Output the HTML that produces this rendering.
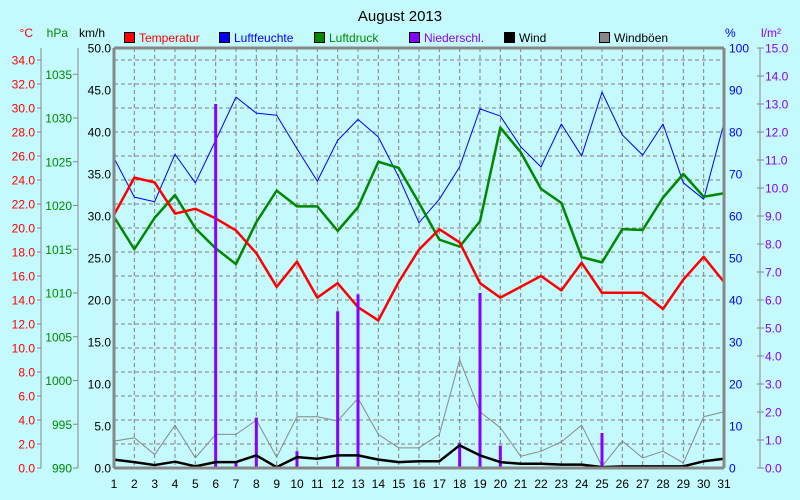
<!DOCTYPE html>
<html><head><meta charset="utf-8"><style>
body{margin:0;background:#c4fafd;}
svg{display:block;font-family:"Liberation Sans",sans-serif;}
</style></head><body>
<svg id="c" width="800" height="500"></svg>
<script>
const days=[1,2,3,4,5,6,7,8,9,10,11,12,13,14,15,16,17,18,19,20,21,22,23,24,25,26,27,28,29,30,31];
const temp=[21.1,24.2,23.8,21.2,21.6,20.8,19.8,17.9,15.1,17.2,14.2,15.4,13.4,12.3,15.5,18.2,19.9,18.8,15.4,14.2,15.1,16.0,14.8,17.1,14.6,14.6,14.6,13.25,15.7,17.6,15.5];
const hum=[73.8,64.5,63.4,74.7,67.9,78,88.3,84.5,84,76,68.3,78,83,78.8,69.3,58.4,64,71.7,85.5,83.8,76.5,71.7,81.9,74.3,89.5,79.3,74.5,81.9,67.9,64,82.1];
const press=[1018.7,1015.0,1018.6,1021.2,1017.4,1015.1,1013.3,1018.1,1021.7,1019.9,1019.9,1017.1,1019.8,1025.0,1024.3,1020.3,1016.1,1015.3,1018.2,1028.9,1026.1,1021.9,1020.3,1014.1,1013.5,1017.3,1017.2,1020.9,1023.6,1021.0,1021.4];
const wind=[1.0,0.7,0.35,0.75,0.2,0.7,0.7,1.5,0.1,1.3,1.1,1.5,1.5,1.0,0.7,0.8,0.8,2.7,1.5,0.7,0.5,0.5,0.4,0.4,0.1,0.2,0.2,0.2,0.2,0.8,1.1];
const gust=[3.2,3.6,1.6,5.1,1.2,4.0,4.0,5.7,1.3,6.1,6.1,5.6,8.3,4.0,2.4,2.4,4.0,12.9,6.7,4.8,1.4,2.0,3.1,5.1,0.2,3.2,1.2,2.0,0.6,6.1,6.7];
const rain=[0,0,0,0,0,13.0,0.2,1.8,0,0.6,0,5.6,6.2,0,0,0,0,0.9,6.25,0.8,0,0,0,0,1.25,0,0,0,0,0,2.0];
const tempTicks=[0,2,4,6,8,10,12,14,16,18,20,22,24,26,28,30,32,34];
const pressTicks=[990,995,1000,1005,1010,1015,1020,1025,1030,1035];
const kmhTicks=[0,5,10,15,20,25,30,35,40,45,50];
const humTicks=[0,10,20,30,40,50,60,70,80,90,100];
const rainTicks=[0,1,2,3,4,5,6,7,8,9,10,11,12,13,14,15];

const L=114,R=724,T=48,B=468;
const x=d=>L+(d-1)*(R-L)/30;
const yT=v=>B-v*(B-T)/35;
const yP=v=>B-(v-990)*(B-T)/48;
const yK=v=>B-v*(B-T)/50;
const yH=v=>B-v*(B-T)/100;
const yR=v=>B-v*(B-T)/15;
const svg=document.getElementById('c');
const NS='http://www.w3.org/2000/svg';
function mk(tag,attrs,parent){const e=document.createElementNS(NS,tag);for(const k in attrs)e.setAttribute(k,attrs[k]);(parent||svg).appendChild(e);return e;}
function txt(s,xx,yy,fill,anchor,size){const e=mk('text',{x:xx,y:yy,fill:fill,'text-anchor':anchor||'start','font-size':size||12});e.textContent=s;return e;}

// grid
const grid=mk('g',{stroke:'#8a7a7a','stroke-dasharray':'4,3','stroke-width':1});


days.forEach(d=>{if(d>1&&d<31)mk('line',{x1:x(d),x2:x(d),y1:T,y2:B},grid);});
tempTicks.forEach(v=>{if(v>0)mk('line',{x1:L,x2:R,y1:yT(v),y2:yT(v)},grid);});

// title & units
let t=txt('August 2013',400,21,'#000','middle',15);
t=txt('°C',33,37,'#f00','end');
t=txt('hPa',68,37,'#080','end');
t=txt('km/h',105,37,'#000','end');
t=txt('%',725,37,'#00f','start');
t=txt('l/m²',761,37,'#80f','start');

// legend
const leg=[['Temperatur','#f00','#f00'],['Luftfeuchte','#00f','#00f'],['Luftdruck','#080','#080'],['Niederschl.','#80f','#80f'],['Wind','#000','#000'],['Windböen','#888','#000']];
leg.forEach((l,i)=>{const g=mk('g',{});


const bx=124+i*95;mk('rect',{x:bx+0.5,y:32.5,width:10,height:10,fill:l[1],stroke:'#000'},g);
const e=mk('text',{x:bx+15,y:42,fill:l[2],'font-size':12},g);e.textContent=l[0];});

// axes
const ax=mk('g',{});


mk('line',{x1:41,x2:41,y1:48,y2:B,stroke:'#888','stroke-width':1},ax);
tempTicks.forEach(v=>{mk('line',{x1:37,x2:41,y1:yT(v),y2:yT(v),stroke:'#888'},ax);const e=mk('text',{x:35,y:yT(v)+4.5,fill:'#f00','text-anchor':'end','font-size':12},ax);e.textContent=v.toFixed(1);});
mk('line',{x1:78,x2:78,y1:48,y2:B,stroke:'#888'},ax);
pressTicks.forEach(v=>{mk('line',{x1:73,x2:78,y1:yP(v),y2:yP(v),stroke:'#888'},ax);const e=mk('text',{x:72,y:yP(v)+4.5,fill:'#080','text-anchor':'end','font-size':12},ax);e.textContent=v;});
kmhTicks.forEach(v=>{const e=mk('text',{x:111,y:yK(v)+4.5,fill:'#000','text-anchor':'end','font-size':12},ax);e.textContent=v.toFixed(1);});
humTicks.forEach(v=>{const e=mk('text',{x:729,y:yH(v)+4.5,fill:'#00f','font-size':12},ax);e.textContent=v;});
mk('line',{x1:760,x2:760,y1:48,y2:B,stroke:'#888'},ax);
rainTicks.forEach(v=>{mk('line',{x1:757,x2:764,y1:yR(v),y2:yR(v),stroke:'#888'},ax);const e=mk('text',{x:765,y:yR(v)+4.5,fill:'#80f','font-size':12},ax);e.textContent=v.toFixed(1);});
days.forEach(d=>{const e=mk('text',{x:x(d),y:488,fill:'#000','text-anchor':'middle','font-size':12},ax);e.textContent=d;});

// series
function line(vals,f,color,w,name){const p=mk('polyline',{points:vals.map((v,i)=>x(days[i])+','+f(v)).join(' '),fill:'none',stroke:color,'stroke-width':w,'stroke-linejoin':'round'});

}
line(gust,yK,'#888',1,'gust-line');
line(hum,yH,'#00f',1,'humidity-line');
line(press,yP,'#080',2.5,'pressure-line');
line(temp,yT,'#f00',2.5,'temperature-line');
const rg=mk('g',{stroke:'#80f','stroke-width':3});


rain.forEach((v,i)=>{if(v>0){const b=mk('line',{x1:x(days[i]),x2:x(days[i]),y1:B,y2:yR(v)},rg);

}});
line(wind,yK,'#000',2.5,'wind-line');

// frame
const fr=mk('g',{stroke:'#888','stroke-width':3,fill:'none'});


mk('line',{x1:L,x2:L,y1:T,y2:B},fr);mk('line',{x1:R,x2:R,y1:T,y2:B},fr);
mk('line',{x1:L,x2:R,y1:T,y2:T},fr);mk('line',{x1:L,x2:R,y1:B,y2:B},fr);
</script>
</body></html>
